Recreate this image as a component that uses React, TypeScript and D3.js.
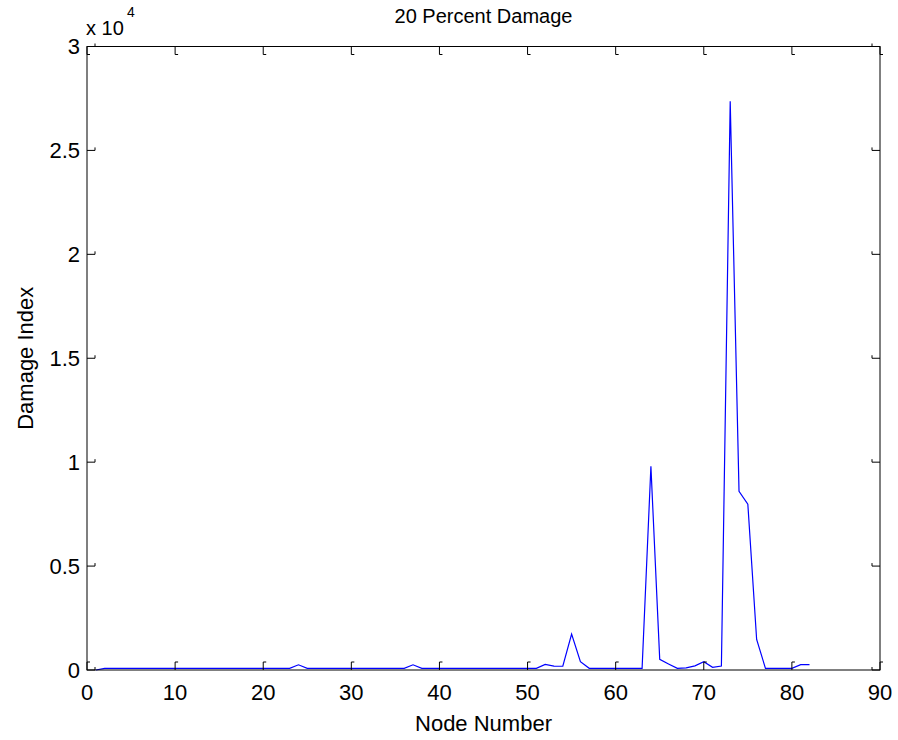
import React from "react";
import * as d3 from "d3";

const nodes: number[] = [
  1, 2, 3, 4, 5, 6, 7, 8, 9, 10, 11, 12, 13, 14, 15, 16, 17, 18, 19, 20,
  21, 22, 23, 24, 25, 26, 27, 28, 29, 30, 31, 32, 33, 34, 35, 36, 37, 38, 39, 40,
  41, 42, 43, 44, 45, 46, 47, 48, 49, 50, 51, 52, 53, 54, 55, 56, 57, 58, 59, 60,
  61, 62, 63, 64, 65, 66, 67, 68, 69, 70, 71, 72, 73, 74, 75, 76, 77, 78, 79, 80,
  81, 82,
];

const damage: number[] = [
  0, 80, 80, 80, 80, 80, 80, 80, 80, 80, 80, 80, 80, 80, 80, 80, 80, 80, 80, 80,
  80, 80, 80, 250, 80, 80, 80, 80, 80, 80, 80, 80, 80, 80, 80, 80, 250, 80, 80, 80,
  80, 80, 80, 80, 80, 80, 80, 80, 80, 80, 80, 270, 190, 180, 1730, 400, 80, 80, 80, 80,
  80, 80, 80, 9800, 510, 290, 80, 100, 200, 400, 130, 190, 27360, 8600, 7980, 1470, 80, 80, 80, 80,
  255, 255,
];

const xTicks: number[] = [0, 10, 20, 30, 40, 50, 60, 70, 80, 90];
const yTicks: number[] = [0, 5000, 10000, 15000, 20000, 25000, 30000];
const yTickLabels: string[] = ["0", "0.5", "1", "1.5", "2", "2.5", "3"];

const W = 898;
const H = 740;
const L = 87;
const R = 880;
const T = 46.5;
const B = 670;
const FONT = "'Liberation Sans', Arial, Helvetica, sans-serif";

export default function App() {
  const x = d3.scaleLinear().domain([0, 90]).range([L, R]);
  const y = d3.scaleLinear().domain([0, 30000]).range([B, T]);
  const line = d3
    .line<number>()
    .x((_, i) => x(nodes[i]))
    .y((d) => y(d));
  const tl = 8;
  const hk = 3;
  return (
    <svg
      width={W}
      height={H}
      style={{ position: "absolute", left: 0, top: 0, background: "#fff" }}
      fontFamily={FONT}
    >
      <rect x={0} y={0} width={W} height={H} fill="#fff" />
      <path d={line(damage) || ""} fill="none" stroke="#0000ff" strokeWidth={1.2} />
      <rect x={L} y={T} width={R - L} height={B - T} fill="none" stroke="#000" strokeWidth={1} />
      {xTicks.map((t) => (
        <g key={"x" + t} stroke="#000" strokeWidth={1} fill="none">
          <path d={`M${x(t)},${B} V${B - tl} h${hk}`} />
          <path d={`M${x(t)},${T} V${T + tl} h${hk}`} />
        </g>
      ))}
      {yTicks.map((t) => (
        <g key={"y" + t} stroke="#000" strokeWidth={1} fill="none">
          <path d={`M${L},${y(t)} H${L + tl} v${-hk}`} />
          <path d={`M${R},${y(t)} H${R - tl} v${-hk}`} />
        </g>
      ))}
      {xTicks.map((t) => (
        <text key={"xl" + t} x={x(t)} y={700} fontSize={22} textAnchor="middle" fill="#000">
          {t}
        </text>
      ))}
      {yTicks.map((t, i) => (
        <text
          key={"yl" + t}
          x={80}
          y={y(t)}
          dy="0.36em"
          fontSize={22}
          textAnchor="end"
          fill="#000"
        >
          {yTickLabels[i]}
        </text>
      ))}
      <text x={86} y={35} fontSize={20} fill="#000">
        x 10
      </text>
      <text x={127} y={17} fontSize={14} fill="#000">
        4
      </text>
      <text x={(L + R) / 2} y={23} fontSize={20} textAnchor="middle" fill="#000">
        20 Percent Damage
      </text>
      <text x={(L + R) / 2} y={731} fontSize={22} textAnchor="middle" fill="#000">
        Node Number
      </text>
      <text
        transform={`translate(33,${(T + B) / 2}) rotate(-90)`}
        fontSize={22}
        textAnchor="middle"
        fill="#000"
      >
        Damage Index
      </text>
    </svg>
  );
}
